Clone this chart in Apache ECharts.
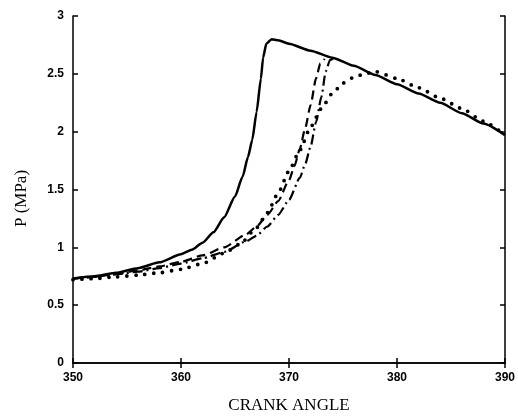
<!DOCTYPE html>
<html>
<head>
<meta charset="utf-8">
<script src="https://cdn.jsdelivr.net/npm/echarts@6/dist/echarts.min.js"></script>
<style>
  html, body { margin: 0; padding: 0; background: #fff; }
  #main { width: 518px; height: 419px; }
</style>
</head>
<body>
<div id="main"></div>
<script>
// 曲柄转角 / 压力 数据
var xTicks = [350, 360, 370, 380, 390];
var yTicks = [0, 0.5, 1, 1.5, 2, 2.5, 3];

var solidAngle = [350, 352, 354, 356, 358, 360, 361, 362, 363, 364, 365, 365.7, 366.2, 366.6, 367, 367.4, 367.6, 367.9, 368.4, 369, 370, 372, 374, 376, 378, 380, 382, 384, 386, 388, 390];
var solidP     = [0.73, 0.75, 0.78, 0.82, 0.87, 0.94, 0.98, 1.04, 1.13, 1.26, 1.44, 1.61, 1.78, 1.93, 2.17, 2.46, 2.64, 2.76, 2.80, 2.79, 2.76, 2.70, 2.64, 2.57, 2.49, 2.41, 2.33, 2.25, 2.16, 2.07, 1.97];

var dashAngle = [350, 352, 354, 356, 358, 360, 362, 364, 366, 367, 368, 369, 370, 370.5, 371, 371.5, 372, 372.5, 372.9, 373.3];
var dashP     = [0.73, 0.745, 0.77, 0.80, 0.835, 0.875, 0.93, 1.00, 1.11, 1.18, 1.28, 1.40, 1.58, 1.70, 1.85, 2.03, 2.23, 2.46, 2.59, 2.63];

var dashDotAngle = [350, 352, 354, 356, 358, 360, 362, 364, 366, 367, 368, 369, 370, 371, 371.5, 372, 372.5, 373, 373.4, 373.8, 374.3];
var dashDotP     = [0.73, 0.745, 0.765, 0.79, 0.82, 0.86, 0.905, 0.96, 1.05, 1.10, 1.18, 1.28, 1.41, 1.60, 1.72, 1.87, 2.08, 2.30, 2.52, 2.62, 2.64];

var dotAngle = [350, 352, 354, 356, 358, 360, 362, 364, 365.5, 367, 368, 369, 370, 371, 372, 373, 374, 375, 376, 377, 378, 380, 382, 384, 386, 388, 390];
var dotP     = [0.72, 0.73, 0.745, 0.76, 0.78, 0.81, 0.86, 0.95, 1.03, 1.17, 1.30, 1.47, 1.66, 1.84, 2.04, 2.20, 2.33, 2.42, 2.47, 2.50, 2.52, 2.46, 2.38, 2.29, 2.20, 2.09, 1.97];

function pairs(xs, ys) {
  return xs.map(function (x, i) { return [x, ys[i]]; });
}

var chartDom = document.getElementById('main');
var myChart = echarts.init(chartDom, null, { renderer: 'canvas' });

var tickFont = {
  color: '#000',
  fontFamily: 'Liberation Sans',
  fontWeight: 'bold',
  fontSize: 12
};

var option = {
  animation: false,
  backgroundColor: '#fff',
  grid: {
    left: 73,
    right: 11,
    top: 16,
    bottom: 50
  },
  xAxis: [
    {
      type: 'value',
      min: xTicks[0],
      max: xTicks[xTicks.length - 1],
      interval: 10,
      name: 'CRANK ANGLE',
      nameLocation: 'middle',
      nameGap: 34,
      nameTextStyle: {
        color: '#000',
        fontFamily: 'Liberation Serif',
        fontSize: 17
      },
      axisLine: { lineStyle: { color: '#000', width: 1.5 } },
      axisTick: { inside: true, length: 5, lineStyle: { color: '#000', width: 1.5 } },
      axisLabel: Object.assign({ margin: 9 }, tickFont),
      splitLine: { show: false }
    },
    {
      type: 'value',
      position: 'top',
      min: xTicks[0],
      max: xTicks[xTicks.length - 1],
      interval: 10,
      axisLine: { lineStyle: { color: '#000', width: 1.5 } },
      axisTick: { inside: true, length: 5, lineStyle: { color: '#000', width: 1.5 } },
      axisLabel: { show: false },
      splitLine: { show: false }
    }
  ],
  yAxis: [
    {
      type: 'value',
      min: yTicks[0],
      max: yTicks[yTicks.length - 1],
      interval: 0.5,
      name: 'P (MPa)',
      nameLocation: 'middle',
      nameGap: 43,
      nameTextStyle: {
        color: '#000',
        fontFamily: 'Liberation Serif',
        fontSize: 17,
        padding: [0, 18, 0, 0]
      },
      axisLine: { show: true, lineStyle: { color: '#000', width: 1.5 } },
      axisTick: { show: true, inside: true, length: 5, lineStyle: { color: '#000', width: 1.5 } },
      axisLabel: Object.assign({ margin: 9 }, tickFont),
      splitLine: { show: false }
    },
    {
      type: 'value',
      position: 'right',
      min: yTicks[0],
      max: yTicks[yTicks.length - 1],
      interval: 0.5,
      axisLine: { show: true, lineStyle: { color: '#000', width: 1.5 } },
      axisTick: { show: true, inside: true, length: 5, lineStyle: { color: '#000', width: 1.5 } },
      axisLabel: { show: false },
      splitLine: { show: false }
    }
  ],
  series: [
    {
      // 实线
      type: 'line',
      data: pairs(solidAngle, solidP),
      showSymbol: false,
      smooth: 0.2,
      smoothMonotone: 'x',
      lineStyle: { color: '#000', width: 2.5 }
    },
    {
      // 虚线
      type: 'line',
      data: pairs(dashAngle, dashP),
      showSymbol: false,
      smooth: 0.2,
      smoothMonotone: 'x',
      lineStyle: { color: '#000', width: 2.2, type: [9, 5] }
    },
    {
      // 点划线
      type: 'line',
      data: pairs(dashDotAngle, dashDotP),
      showSymbol: false,
      smooth: 0.2,
      smoothMonotone: 'x',
      lineStyle: { color: '#000', width: 2.2, type: [10, 4, 2, 4] }
    },
    {
      // 点线
      type: 'line',
      data: pairs(dotAngle, dotP),
      showSymbol: false,
      smooth: 0.2,
      smoothMonotone: 'x',
      lineStyle: { color: '#000', width: 3.8, type: [0, 9], cap: 'round' }
    }
  ]
};

option && myChart.setOption(option);
</script>
</body>
</html>
